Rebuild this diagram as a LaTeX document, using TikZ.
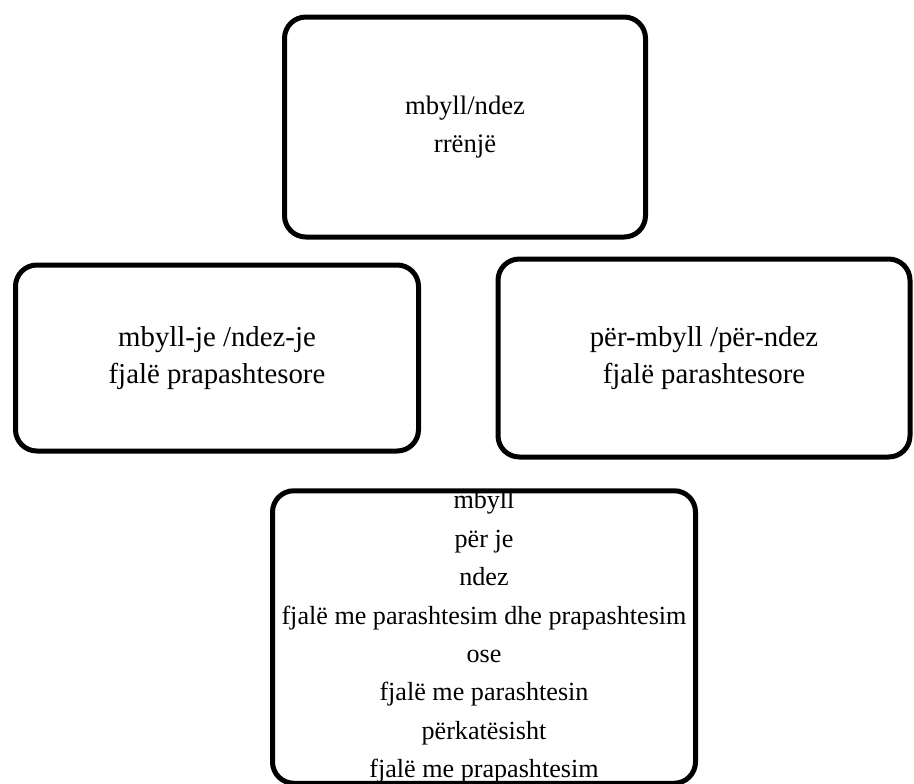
\documentclass[tikz,border=0pt]{standalone}
\usepackage{fontspec}
\setmainfont{Liberation Serif}

\begin{document}
\begin{tikzpicture}[x=0.75pt,y=-0.75pt,
    main/.style = {draw, line width=3.75pt, rounded corners=16pt, align=center, inner sep=0pt},
    small/.style = {font=\fontsize{20}{28.8}\selectfont},
    large/.style = {font=\fontsize{21.6}{27.75}\selectfont}]
  \useasboundingbox (0,0) rectangle (914,783);

  \node[main, small, minimum width=270.75pt, minimum height=165pt] at (465,127) (root) {mbyll/ndez\\rrënjë};

  \node[main, large, minimum width=302.25pt, minimum height=139.5pt] at (217,358) (suffix) {mbyll-je /ndez-je\\fjalë prapashtesore};
  \node[main, large, minimum width=309pt, minimum height=148.5pt] at (704,358) (prefix) {për-mbyll /për-ndez\\fjalë parashtesore};

  \node[main, small, font=\fontsize{19.6}{28.8}\selectfont, minimum width=317.25pt, minimum height=219pt] at (484,637) (both) {mbyll\\për je\\ndez\\fjalë me parashtesim dhe prapashtesim\\ose\\fjalë me parashtesin\\përkatësisht\\fjalë me prapashtesim};

\end{tikzpicture}
\end{document}
